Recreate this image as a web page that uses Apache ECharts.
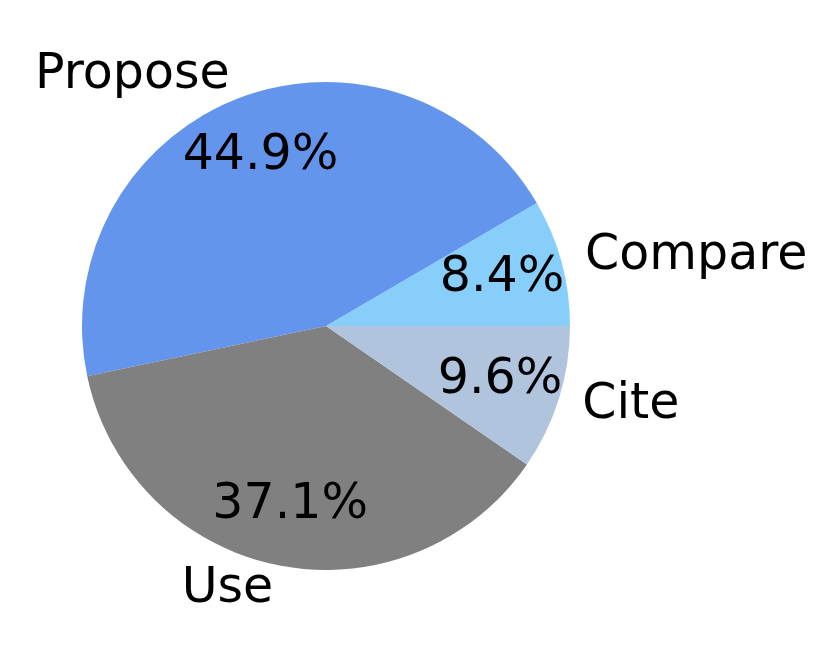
<!DOCTYPE html>
<html>
<head>
<meta charset="utf-8">
<script src="https://cdn.jsdelivr.net/npm/echarts@6/dist/echarts.min.js"></script>
<style>
html,body{margin:0;padding:0;background:#fff;}
#chart{width:831px;height:652px;}
</style>
</head>
<body>
<div id="chart"></div>
<script>
const categories = ['Compare', 'Propose', 'Use', 'Cite'];
const shares = [8.4, 44.9, 37.1, 9.6];
const colors = ['#87CEFA', '#6495ED', '#808080', '#B0C4DE'];

const CX = 326, CY = 326, R = 244;
const PCT_DIST = 0.735, LABEL_DIST = 1.1;
const FONT = 'DejaVu Sans';
const FONT_SIZE = 49;

const chart = echarts.init(document.getElementById('chart'), null, {renderer: 'canvas'});

const sectorData = categories.map((c, i) => ({
  name: c, value: shares[i], itemStyle: {color: colors[i]}
}));
const pctData = categories.map((c, i) => ({
  name: c, value: shares[i]
}));

chart.setOption({
  animation: false,
  backgroundColor: '#ffffff',
  series: [
    {
      type: 'pie',
      center: [CX, CY],
      radius: [0, R],
      startAngle: 0,
      clockwise: false,
      avoidLabelOverlap: false,
      silent: true,
      itemStyle: {borderWidth: 0},
      label: {
        show: true,
        position: 'outside',
        alignTo: 'none',
        distanceToLabelLine: 0,
        overflow: 'none',
        formatter: '{b}',
        fontFamily: FONT,
        fontSize: FONT_SIZE,
        color: '#000'
      },
      labelLine: {show: false, length: R * (LABEL_DIST - 1), length2: 0},
      data: sectorData
    },
    {
      type: 'pie',
      center: [CX, CY],
      radius: [0, 2 * PCT_DIST * R],
      startAngle: 0,
      clockwise: false,
      avoidLabelOverlap: false,
      silent: true,
      itemStyle: {color: 'rgba(0,0,0,0)', borderWidth: 0},
      label: {
        show: true,
        position: 'inside',
        overflow: 'none',
        formatter: p => p.value.toFixed(1) + '%',
        fontFamily: FONT,
        fontSize: FONT_SIZE,
        color: '#000'
      },
      labelLine: {show: false},
      data: pctData
    }
  ]
});
</script>
</body>
</html>
